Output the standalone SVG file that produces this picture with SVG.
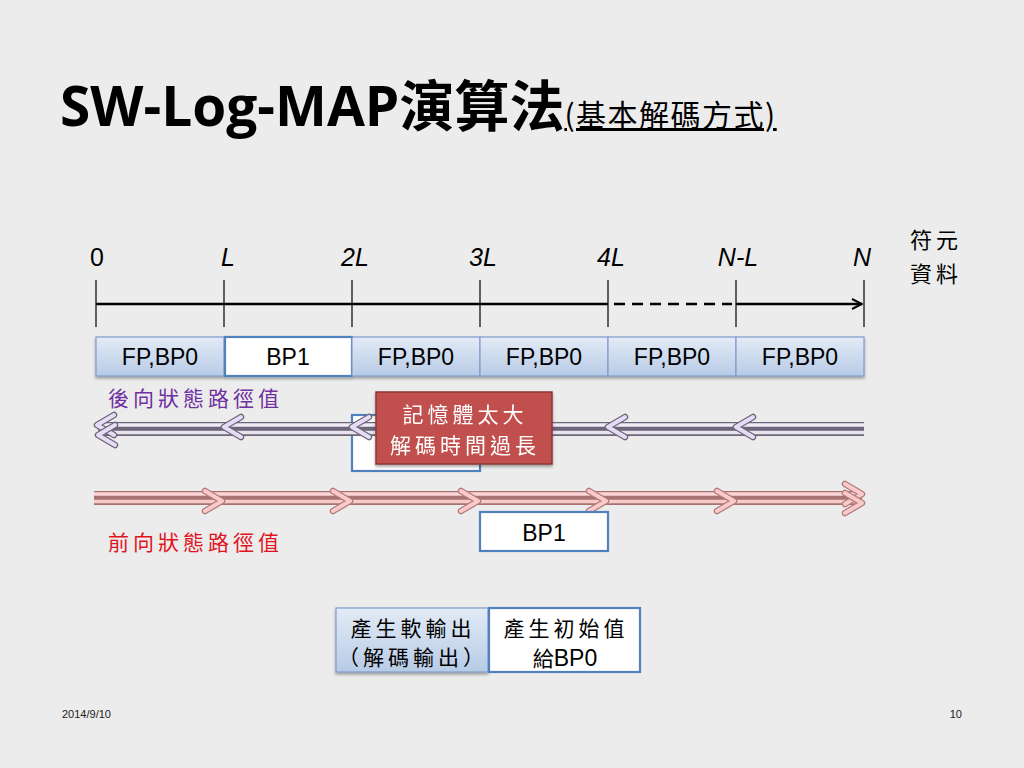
<svg xmlns="http://www.w3.org/2000/svg" width="1024" height="768" viewBox="0 0 1024 768">
<defs>
<linearGradient id="gBlue" x1="0" y1="0" x2="0" y2="1">
<stop offset="0" stop-color="#e3ebf6"/>
<stop offset="1" stop-color="#b7cbe6"/>
</linearGradient>
<filter id="sh" x="-10%" y="-10%" width="120%" height="140%">
<feDropShadow dx="0" dy="2" stdDeviation="1.5" flood-color="#000" flood-opacity="0.35"/>
</filter>
<marker id="ah" viewBox="0 0 12 12" refX="11" refY="6" markerWidth="12" markerHeight="12" markerUnits="userSpaceOnUse" orient="auto">
<path d="M1,1 L11,6 L1,11" fill="none" stroke="#000" stroke-width="2"/>
</marker>
<symbol id="chevL" overflow="visible">
<path d="M17,-10 L0,0 L17,10" fill="none" stroke="#6d6578" stroke-width="6.5" stroke-linejoin="round" stroke-linecap="round"/>
<path d="M17,-10 L0,0 L17,10" fill="none" stroke="#e6dcf6" stroke-width="4" stroke-linejoin="round" stroke-linecap="round"/>
</symbol>
<symbol id="chevR" overflow="visible">
<path d="M-17,-10 L0,0 L-17,10" fill="none" stroke="#b07a7a" stroke-width="6.5" stroke-linejoin="round" stroke-linecap="round"/>
<path d="M-17,-10 L0,0 L-17,10" fill="none" stroke="#fbc9c9" stroke-width="4" stroke-linejoin="round" stroke-linecap="round"/>
</symbol>
</defs>
<style>
.lat{font-family:"Liberation Sans",Arial,sans-serif;}
.cjk{font-family:"Noto Sans CJK TC","Noto Sans CJK SC",sans-serif;}
.axl{font-family:"Liberation Sans",Arial,sans-serif;font-size:25px;font-style:italic;fill:#000;text-anchor:middle;}
.up{font-style:normal;}
.tick{stroke:#000;stroke-width:1.2;}
.bb{fill:url(#gBlue);stroke:#7f9ccb;stroke-width:1.2;}
.wb{fill:#fff;stroke:#4f81bd;stroke-width:2.2;}
.bt{font-family:"Liberation Sans",Arial,sans-serif;font-size:23px;fill:#000;text-anchor:middle;}
.ct{font-family:"Noto Sans CJK TC",sans-serif;font-size:21px;letter-spacing:4px;}
</style>
<rect width="1024" height="768" fill="#ececec"/>

<g id="title">
<text x="60" y="126" font-family="'Open Sans','Noto Sans CJK TC',sans-serif" font-weight="bold" font-size="55" fill="#000">SW-Log-MAP<tspan font-family="'Noto Sans CJK TC',sans-serif">演算法</tspan><tspan font-family="'Noto Sans CJK TC',sans-serif" font-weight="normal" font-size="30" letter-spacing="1.5" text-decoration="underline">(基本解碼方式)</tspan></text>
</g>

<g id="axis">
<line class="tick" x1="96" y1="280" x2="96" y2="327"/>
<line class="tick" x1="224" y1="280" x2="224" y2="327"/>
<line class="tick" x1="352" y1="280" x2="352" y2="327"/>
<line class="tick" x1="480" y1="280" x2="480" y2="327"/>
<line class="tick" x1="608" y1="280" x2="608" y2="327"/>
<line class="tick" x1="736" y1="280" x2="736" y2="327"/>
<line class="tick" x1="864" y1="280" x2="864" y2="327"/>
<line x1="96" y1="304" x2="608" y2="304" stroke="#000" stroke-width="2.5"/>
<line x1="614" y1="304" x2="732" y2="304" stroke="#000" stroke-width="2.5" stroke-dasharray="11,7"/>
<line x1="736" y1="304" x2="862" y2="304" stroke="#000" stroke-width="2.5" marker-end="url(#ah)"/>
<text class="axl up" x="97" y="266">0</text>
<text class="axl" x="228" y="266">L</text>
<text class="axl" x="355" y="266">2L</text>
<text class="axl" x="483" y="266">3L</text>
<text class="axl" x="611" y="266">4L</text>
<text class="axl" x="738" y="266">N-L</text>
<text class="axl" x="862" y="266">N</text>
<text class="cjk" x="910" y="248" font-size="22" fill="#000" letter-spacing="4">符元</text>
<text class="cjk" x="910" y="282" font-size="22" fill="#000" letter-spacing="4">資料</text>
</g>

<g id="row1" filter="url(#sh)">
<rect class="bb" x="96" y="337" width="128" height="39"/>
<rect class="wb" x="225" y="337" width="127" height="39"/>
<rect class="bb" x="352" y="337" width="128" height="39"/>
<rect class="bb" x="480" y="337" width="128" height="39"/>
<rect class="bb" x="608" y="337" width="128" height="39"/>
<rect class="bb" x="736" y="337" width="128" height="39"/>
</g>
<g id="row1text">
<text class="bt" x="160" y="365">FP,BP0</text>
<text class="bt" x="288" y="365">BP1</text>
<text class="bt" x="416" y="365">FP,BP0</text>
<text class="bt" x="544" y="365">FP,BP0</text>
<text class="bt" x="672" y="365">FP,BP0</text>
<text class="bt" x="800" y="365">FP,BP0</text>
</g>

<g id="labels">
<text class="ct" x="108" y="406" fill="#7030a0">後向狀態路徑值</text>
<text class="ct" x="108" y="550" fill="#e0141e">前向狀態路徑值</text>
</g>

<g id="hiddenBox">
<rect class="wb" x="352" y="415" width="128" height="56"/>
</g>

<g id="connectors">
<g id="backward">
<line x1="98" y1="429" x2="864" y2="429" stroke="#6d6578" stroke-width="14"/>
<line x1="98" y1="425" x2="864" y2="425" stroke="#f0ecf6" stroke-width="3.5"/>
<line x1="98" y1="432.5" x2="864" y2="432.5" stroke="#e8e4ee" stroke-width="3.5"/>
<use href="#chevL" x="97" y="425"/>
<use href="#chevL" x="98" y="435"/>
<use href="#chevL" x="224" y="427"/>
<use href="#chevL" x="352" y="427"/>
<use href="#chevL" x="608" y="427"/>
<use href="#chevL" x="736" y="427"/>
</g>
<g id="forward">
<line x1="94" y1="498" x2="862" y2="498" stroke="#a87272" stroke-width="14"/>
<line x1="94" y1="494" x2="862" y2="494" stroke="#fcd6d6" stroke-width="3.5"/>
<line x1="94" y1="501.5" x2="862" y2="501.5" stroke="#f7caca" stroke-width="3.5"/>
<use href="#chevR" x="222" y="501"/>
<use href="#chevR" x="350" y="501"/>
<use href="#chevR" x="478" y="501"/>
<use href="#chevR" x="606" y="501"/>
<use href="#chevR" x="734" y="501"/>
<use href="#chevR" x="862" y="494"/>
<use href="#chevR" x="862" y="503"/>
</g>
</g>

<g id="memoryBox" filter="url(#sh)">
<rect x="376" y="392" width="176" height="72" fill="#c0504d" stroke="#8c3836" stroke-width="1.5"/>
<text class="ct" x="465" y="422" fill="#fff" text-anchor="middle">記憶體太大</text>
<text class="ct" x="465" y="453" fill="#fff" text-anchor="middle">解碼時間過長</text>
</g>

<g id="bp1Forward">
<rect class="wb" x="480" y="512" width="128" height="39"/>
<text class="bt" x="544" y="541">BP1</text>
</g>

<g id="softOut">
<rect class="bb" x="336" y="608" width="152" height="64" filter="url(#sh)"/>
<text class="ct" x="413" y="636" fill="#000" text-anchor="middle">產生軟輸出</text>
<text class="ct" x="413" y="665" fill="#000" text-anchor="middle">（解碼輸出）</text>
</g>
<g id="initBP0">
<rect class="wb" x="489" y="608" width="151" height="64"/>
<text class="ct" x="566" y="636" fill="#000" text-anchor="middle">產生初始值</text>
<text x="565" y="666" fill="#000" text-anchor="middle"><tspan class="cjk" font-size="21">給</tspan><tspan class="lat" font-size="23">BP0</tspan></text>
</g>

<g id="footer">
<text class="lat" x="62" y="718" font-size="11" fill="#222">2014/9/10</text>
<text class="lat" x="962" y="718" font-size="11" fill="#222" text-anchor="end">10</text>
</g>
</svg>
